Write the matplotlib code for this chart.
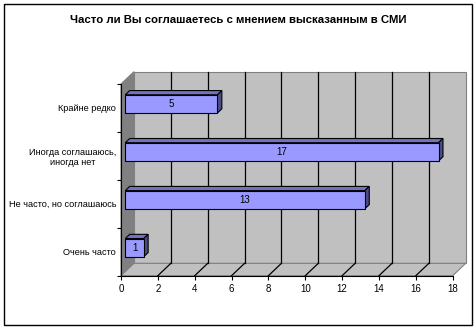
import matplotlib
matplotlib.use("Agg")
import matplotlib.pyplot as plt
from matplotlib.patches import Polygon, Rectangle

plt.rcParams['font.family'] = ['Liberation Sans', 'DejaVu Sans']

title = "Часто ли Вы соглашаетесь с мнением высказанным в СМИ"
categories = ["Очень часто", "Не часто, но соглашаюсь",
              "Иногда соглашаюсь,\nиногда нет", "Крайне редко"]
values = [1, 13, 17, 5]
xticks = list(range(0, 19, 2))

# 3d look
DX, DY = 0.705, 0.258      # depth of the floor, in data units
F1, F2 = 0.33, 0.67        # bar front / back as fraction of depth
H = 0.19                   # half bar height
wall = "#c0c0c0"
side = "#808080"
front_c, top_c, right_c = "#9999ff", "#7272c0", "#4c4c88"

fig = plt.figure(figsize=(4.76, 3.29), dpi=100)
fig.patches.append(Rectangle((3.5 / 476, 3.7 / 329), 468.5 / 476, 321.3 / 329,
                             transform=fig.transFigure, fill=False,
                             edgecolor="black", lw=1))
fig.text(0.5, 0.939, title, ha="center", va="center", fontsize=8.2,
         fontweight="bold")

ax = fig.add_axes([121 / 476, 53.3 / 329, 331.7 / 476, 191.7 / 329])
ax.set_xlim(0, 18)
ax.set_ylim(0, 4)
ax.patch.set_visible(False)
ax.spines["top"].set_visible(False)
ax.spines["right"].set_visible(False)
ax.spines["left"].set_zorder(6)
ax.spines["bottom"].set_zorder(6)

n = len(categories)
# side wall, back wall, floor
ax.add_patch(Polygon([(0, 0), (DX, DY), (DX, n + DY), (0, n)], closed=True,
                     facecolor=side, edgecolor=side, lw=0.8, clip_on=False, zorder=1))
ax.add_patch(Polygon([(DX, DY), (18 + DX, DY), (18 + DX, n + DY), (DX, n + DY)],
                     closed=True, facecolor=wall, edgecolor=side, lw=0.8,
                     clip_on=False, zorder=1))
ax.add_patch(Polygon([(0, 0), (18, 0), (18 + DX, DY), (DX, DY)], closed=True,
                     facecolor=wall, edgecolor=side, lw=0.8, clip_on=False, zorder=1))
for t in xticks[1:-1]:
    ax.plot([t + DX, t + DX], [DY, n + DY], color="black", lw=0.9,
            clip_on=False, zorder=2)
    ax.plot([t, t + DX], [0, DY], color="black", lw=0.9, clip_on=False, zorder=2)

# bars
for i, v in enumerate(values):
    x0 = F1 * DX
    y0 = i + 0.5 + F1 * DY - H
    y1 = i + 0.5 + F1 * DY + H
    ddx = (F2 - F1) * DX
    ddy = (F2 - F1) * DY
    ax.add_patch(Polygon([(x0, y1), (x0 + v, y1), (x0 + v + ddx, y1 + ddy),
                          (x0 + ddx, y1 + ddy)], closed=True, facecolor=top_c,
                         edgecolor="black", lw=0.8, clip_on=False, zorder=3))
    ax.add_patch(Polygon([(x0 + v, y0), (x0 + v + ddx, y0 + ddy),
                          (x0 + v + ddx, y1 + ddy), (x0 + v, y1)], closed=True,
                         facecolor=right_c, edgecolor="black", lw=0.8,
                         clip_on=False, zorder=3))
    ax.add_patch(Rectangle((x0, y0), v, y1 - y0, facecolor=front_c,
                           edgecolor="black", lw=0.8, clip_on=False, zorder=4))
    ax.text(x0 + v / 2, (y0 + y1) / 2, str(v), ha="center", va="center",
            fontsize=7, zorder=5)

ax.set_xticks(xticks)
ax.set_xticklabels([str(t) for t in xticks], fontsize=7)
ax.tick_params(axis="x", direction="out", length=3, width=0.8, pad=3)
ax.set_yticks(range(n + 1))
ax.set_yticklabels([])
ax.tick_params(axis="y", which="major", direction="out", length=3, width=0.8)
ax.set_yticks([i + 0.5 for i in range(n)], minor=True)
ax.set_yticklabels(categories, minor=True, fontsize=6.6, multialignment="center")
ax.tick_params(axis="y", which="minor", length=0, pad=3.5)

fig.savefig("out.png", dpi=100)
